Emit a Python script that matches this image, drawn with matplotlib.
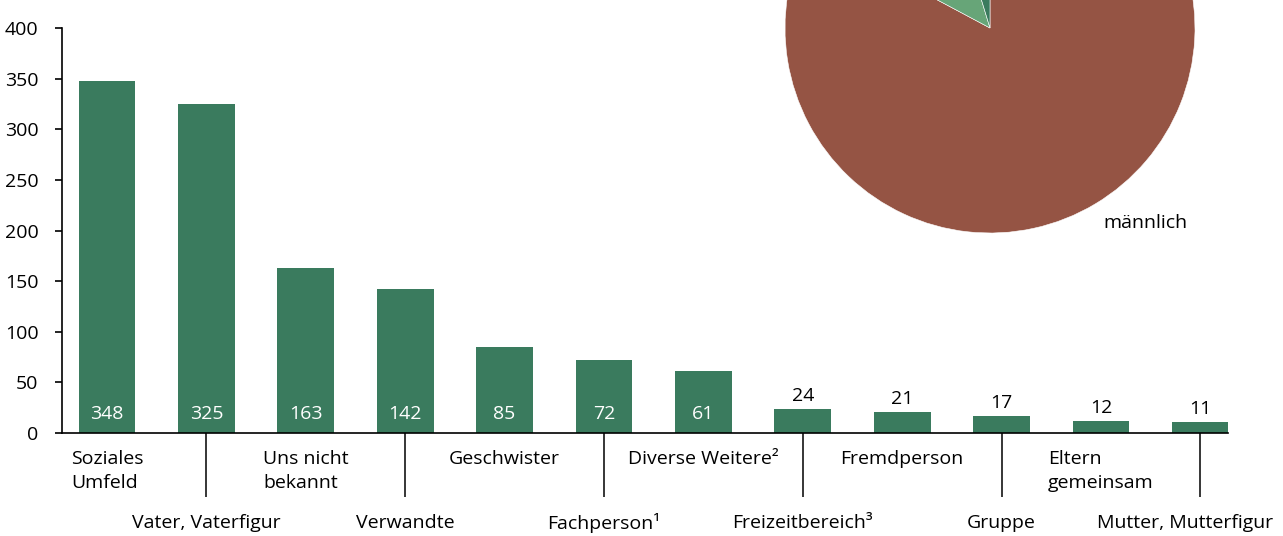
import matplotlib
matplotlib.use("Agg")
import matplotlib.pyplot as plt
import numpy as np

plt.rcParams['font.family'] = ['Open Sans', 'DejaVu Sans']

categories = ["Soziales\nUmfeld", "Vater, Vaterfigur", "Uns nicht\nbekannt", "Verwandte",
              "Geschwister", "Fachperson¹", "Diverse Weitere²", "Freizeitbereich³",
              "Fremdperson", "Gruppe", "Eltern\ngemeinsam", "Mutter, Mutterfigur"]
values = [348, 325, 163, 142, 85, 72, 61, 24, 21, 17, 12, 11]
yticks = [0, 50, 100, 150, 200, 250, 300, 350, 400]

pie_labels = ["männlich", "", ""]
pie_shares = [82.8, 12.5, 4.7]

BAR = "#3a7b5e"
BROWN = "#955444"
LIGHTG = "#67a578"
FS = 14

W, H = 1283, 536
fig = plt.figure(figsize=(W / 100, H / 100), dpi=100)

ax = fig.add_axes([62 / W, (H - 433) / H, (1228 - 62) / W, (433 - 28) / H])
x = np.arange(len(values))
ax.bar(x, values, width=0.57, color=BAR, zorder=2)
ax.set_xlim(-0.453, 11.278)
ax.set_ylim(0, 400)
ax.set_yticks(yticks)
ax.set_yticklabels([str(t) for t in yticks], fontsize=FS)
ax.tick_params(axis='y', direction='out', length=5.0, width=1.2, pad=12, colors='black')
for s in ['top', 'right']:
    ax.spines[s].set_visible(False)
ax.spines['left'].set_linewidth(1.2)
ax.spines['bottom'].set_linewidth(1.2)

# separator ticks at the lower-row labels
ax.set_xticks(x[1::2])
ax.set_xticklabels([])
ax.tick_params(axis='x', direction='out', length=46, width=1.1, colors='black')

for i, (v, c) in enumerate(zip(values, categories)):
    if v > 50:
        ax.annotate(str(v), (i, 0), xytext=(0, 14), textcoords='offset points',
                    ha='center', va='center', color='white', fontsize=FS)
    else:
        ax.annotate(str(v), (i, v), xytext=(0, 3), textcoords='offset points',
                    ha='center', va='bottom', color='black', fontsize=FS)
    if i % 2 == 0:
        ax.annotate(c, (i, 0), xytext=(0, -12), textcoords='offset points',
                    ha='center', va='top', multialignment='left', fontsize=FS,
                    linespacing=1.45, annotation_clip=False)
    else:
        dx = -11 if i == len(values) - 1 else 0
        ax.annotate(c, (i, 0), xytext=(dx, -64.5), textcoords='offset points',
                    ha='center', va='center', fontsize=FS, annotation_clip=False)

# pie (partially cut off at the top of the figure)
R = 205
cx, cy = 990, 28
pax = fig.add_axes([(cx - R) / W, (H - cy - R) / H, 2 * R / W, 2 * R / H])
pax.pie(pie_shares, colors=[BROWN, LIGHTG, BAR], startangle=90, counterclock=False,
        wedgeprops=dict(edgecolor='white', linewidth=0.4))
pax.set_xlim(-1, 1)
pax.set_ylim(-1, 1)
pax.set_aspect('equal')
pax.axis('off')
fig.text(1145 / W, (H - 223) / H, pie_labels[0], ha='center', va='center', fontsize=FS)

fig.savefig("out.png", dpi=100)
